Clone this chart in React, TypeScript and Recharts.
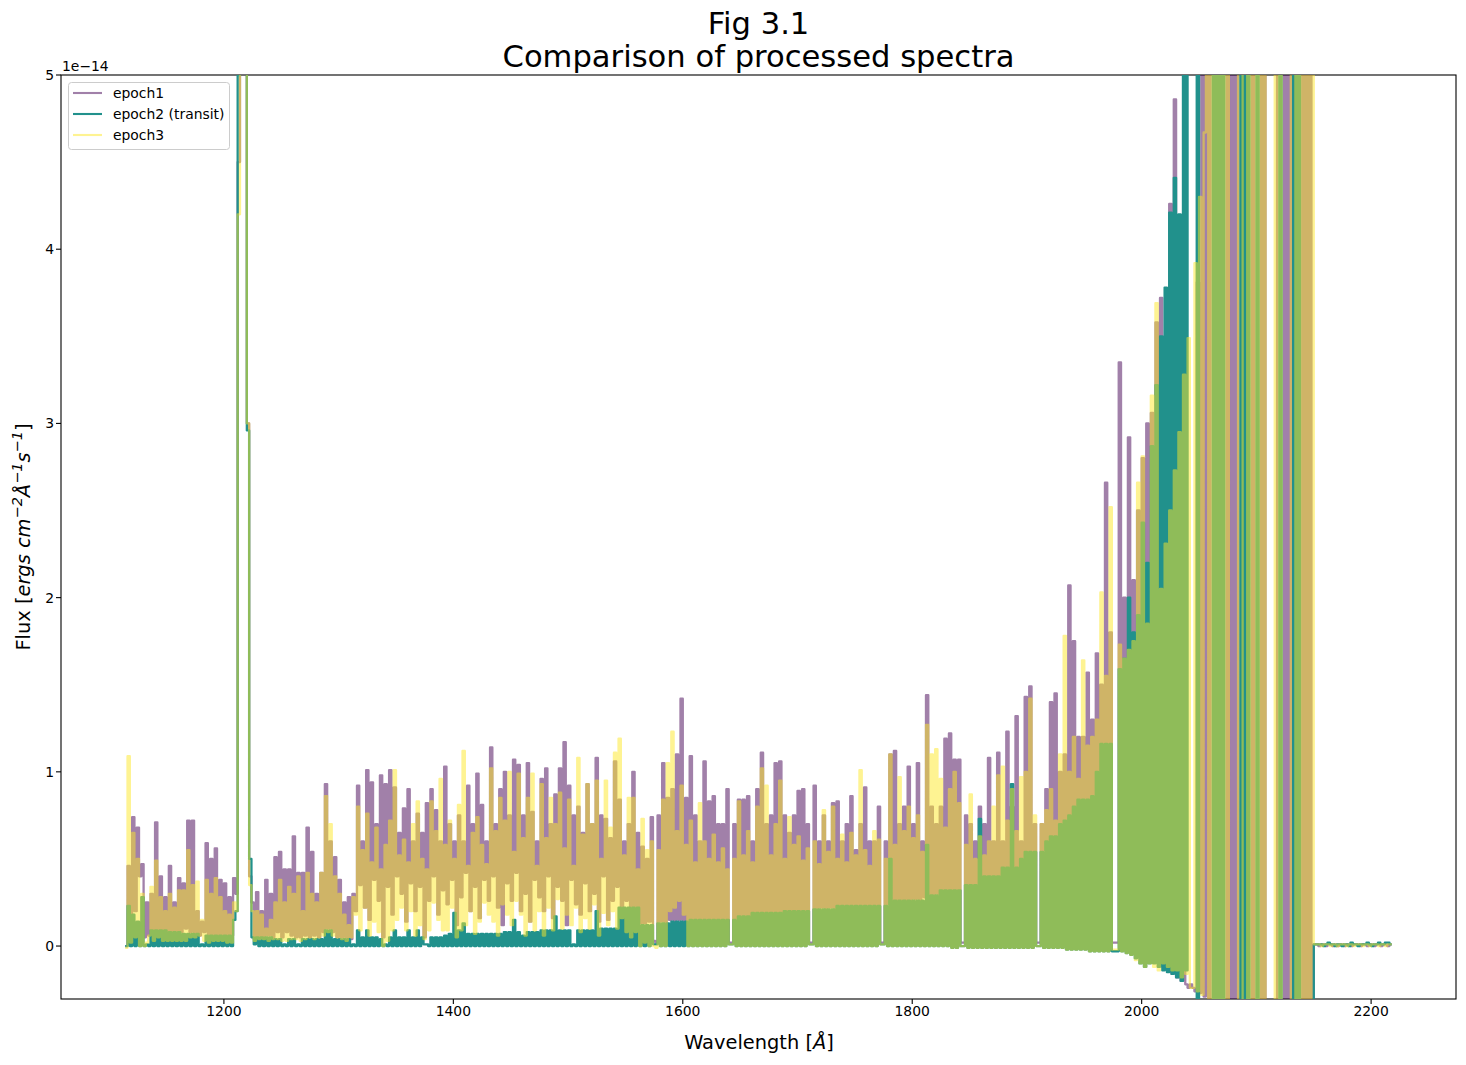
import { LineChart, Line, XAxis, YAxis } from "recharts";

// flux in units of 1e-16, one value every 2 A starting at 1114 A
const fluxEpoch1 = [
  0,46,5,74,20,68,40,47,5,25,6,30,8,71,5,40,5,28,6,46,
  5,25,5,39,8,36,10,72,8,72,5,20,6,14,8,59,5,50,6,56,
  5,38,6,36,5,28,6,39,30,450,1200,2400,2400,300,40,25,4,31,5,20,
  5,38,6,30,5,51,8,54,5,44,8,44,6,63,5,42,5,42,6,68,
  5,54,6,30,5,42,8,93,10,60,8,51,5,38,5,25,4,28,4,30,
  20,92,35,60,22,101,15,94,38,70,26,98,5,93,34,101,18,91,40,65,
  30,79,14,90,36,60,20,76,34,65,5,82,26,90,40,78,18,60,32,103,
  24,70,38,60,12,75,28,60,42,92,20,70,34,99,16,81,38,60,26,114,
  40,70,22,90,12,100,36,75,26,107,42,104,20,75,30,105,14,77,38,60,
  28,96,20,102,40,70,16,87,34,102,26,117,12,92,38,75,24,80,18,65,
  36,93,20,70,30,108,14,75,40,73,15,62,26,106,34,84,13,60,26,70,
  13,100,15,65,13,57,13,50,14,74,3,2,75,14,105,13,85,15,90,14,
  110,15,142,13,85,14,109,15,75,13,60,15,106,14,83,15,86,14,70,15,
  70,14,90,2,2,70,15,84,15,84,16,86,15,60,16,90,17,111,18,70,
  18,75,19,105,18,106,19,75,20,65,19,75,20,89,19,90,20,70,2,2,
  92,21,60,22,75,21,60,22,82,21,83,22,60,21,70,22,86,21,55,23,
  70,23,91,22,60,23,60,22,80,2,2,60,24,110,24,112,25,70,26,80,
  26,103,26,70,27,105,26,60,28,144,28,80,29,70,30,80,30,119,31,122,
  31,107,32,107,2,2,75,33,70,34,60,34,80,35,70,36,108,36,60,38,
  111,39,60,40,123,42,80,44,132,45,60,48,143,48,149,50,70,2,2,70,
  55,90,55,140,56,145,58,100,60,110,60,207,64,175,66,120,70,120,76,157,
  78,130,80,168,82,150,85,266,88,180,2,2,2,335,110,200,115,292,120,210,
  -3,250,-5,280,-5,300,-6,306,-8,358,-10,372,-12,350,-14,426,-16,486,-18,350,
  -20,420,-22,-24,-22,-24,-26,381,-27,1000,-29,3000,-3000,3000,3000,3000,3000,3000,3000,3000,
  -3000,3000,-3000,3000,-3000,3000,3000,3000,3000,3000,3000,-3000,3000,3000,3000,-3000,3000,-3000,-3000,-3000,
  -3000,-3000,3000,3000,3000,-3000,3000,-3000,3000,3000,3000,3000,3000,-3000,3000,-3000,3000,-3000,1,1,
  0,1,1,0,1,1,0,1,0,1,1,0,1,1,0,1,1,1,0,1,
  1,0,1,1,0,1,1,0,1,1,0,1,1,
];

const fluxEpoch2 = [
  0,23,0,18,0,14,0,28,0,1,0,9,0,9,0,9,0,9,0,8,
  0,8,0,8,0,7,0,7,0,7,0,7,0,1,0,6,0,6,0,6,
  0,6,0,6,0,6,0,15,20,500,1300,2400,2400,296,50,5,1,5,0,5,
  0,5,0,5,0,4,0,4,0,1,0,4,0,4,0,1,0,4,0,4,
  0,4,0,4,0,4,0,9,0,9,0,4,0,4,0,4,0,4,0,1,
  0,9,0,5,0,9,0,5,0,5,0,4,0,1,0,5,0,9,0,5,
  0,5,0,9,0,5,0,9,0,5,1,1,0,5,0,5,0,5,0,6,
  0,7,0,19,0,9,0,13,0,7,0,7,0,7,0,7,0,7,0,7,
  0,7,0,7,0,8,0,8,0,15,0,8,0,6,0,8,0,8,0,8,
  0,9,0,9,0,9,0,17,0,9,0,9,0,9,0,1,0,9,0,9,
  0,9,0,9,0,20,0,10,0,10,0,10,0,10,0,22,0,22,0,22,
  0,22,0,22,0,12,0,12,0,12,1,1,13,0,13,0,13,0,14,0,
  14,0,14,0,14,0,15,0,15,0,15,0,15,0,15,0,15,0,15,0,
  15,0,15,1,1,15,0,17,0,17,0,17,0,19,0,19,0,19,0,19,
  0,19,0,19,0,19,0,20,0,20,0,20,0,20,0,20,0,20,1,1,
  21,0,21,0,21,0,21,0,21,0,23,0,23,0,23,0,23,0,23,0,
  23,0,23,0,23,0,23,0,23,1,1,23,0,50,0,26,0,26,0,26,
  0,26,0,26,0,26,0,26,0,58,0,29,0,29,0,32,0,32,0,32,
  -1,32,-1,32,0,0,35,-1,35,-1,35,-1,73,-1,40,-1,40,-1,40,-1,
  40,-1,45,-1,45,-1,93,-1,45,-1,50,-1,54,-1,54,-1,54,0,0,54,
  -1,60,-1,63,-1,63,-1,70,-1,72,-2,75,-2,80,-2,84,-2,84,-2,84,
  -3,86,-3,100,-3,116,-3,116,-3,116,-3,-3,-3,159,-3,165,-4,200,-5,180,
  -7,190,-10,243,-12,220,-10,287,-10,322,-12,350,-14,378,-15,421,-16,441,-18,420,
  -20,1000,-14,3000,3000,3000,3000,-3000,3000,3000,3000,3000,3000,3000,-3000,3000,-3000,3000,-3000,3000,
  3000,3000,3000,3000,3000,3000,-3000,3000,-3000,3000,-3000,-3000,-3000,3000,-3000,-3000,-3000,-3000,-3000,-3000,
  -3000,-3000,-3000,3000,-3000,-3000,-3000,-3000,-3000,3000,-3000,3000,-3000,-3000,-3000,-3000,-3000,-3000,1,1,
  1,1,0,1,2,1,1,0,1,1,0,1,1,0,2,1,1,0,1,1,
  1,2,1,0,1,1,2,1,1,2,2,1,1,
];

const fluxEpoch3 = [
  -1,109,2,65,5,50,0,30,0,2,6,34,3,49,5,28,3,20,3,30,
  3,22,3,32,3,32,3,55,5,35,5,37,6,15,3,38,2,30,3,39,
  3,28,3,20,2,18,2,25,20,420,1300,2400,2400,300,35,20,3,20,4,18,
  4,10,3,15,4,25,4,38,3,25,3,34,4,30,4,40,3,20,4,42,
  5,30,4,25,5,42,6,86,8,70,6,40,5,30,4,18,3,12,5,28,
  18,80,9,55,22,76,6,48,14,68,8,44,0,58,3,72,9,101,15,52,
  22,61,9,48,20,70,6,83,12,50,4,44,9,83,25,66,15,96,9,58,
  9,72,22,50,5,81,9,112,12,46,20,65,7,74,14,58,25,47,18,102,
  14,66,6,85,24,72,18,100,12,54,26,99,18,62,6,85,14,99,9,46,
  20,93,6,62,22,85,9,70,27,88,10,56,18,84,12,46,22,108,8,64,
  16,93,10,70,24,95,6,50,19,95,12,68,20,111,10,119,16,52,8,85,
  5,85,8,44,0,73,2,55,0,60,0,-1,55,0,84,0,105,20,123,22,
  66,26,92,18,58,0,72,0,48,0,82,0,60,0,50,0,64,0,48,0,
  56,0,44,1,1,50,0,83,0,52,0,66,0,48,0,80,0,102,0,92,
  0,52,0,70,0,95,0,50,0,74,0,58,0,63,0,49,0,56,1,1,
  60,0,47,0,78,0,54,0,80,0,50,0,64,0,48,0,65,0,52,0,
  101,0,55,0,46,0,66,0,61,1,1,50,0,110,0,58,0,97,0,66,
  0,80,0,62,0,75,0,54,0,127,0,110,0,113,0,96,0,68,0,90,
  -1,100,-1,82,0,0,58,-1,87,-1,50,-1,63,-1,52,-1,60,-1,80,-1,
  98,-1,103,-1,72,-1,90,-1,66,-1,97,-1,100,-1,142,-1,75,0,0,70,
  -1,78,-1,90,-1,72,-1,110,-1,178,-2,100,-2,120,-2,96,-2,164,-2,115,
  -3,120,-3,130,-3,203,-3,155,-3,252,-2,-2,-2,173,-3,165,-4,170,-5,175,
  -8,266,-10,281,-12,185,-10,316,-12,369,-14,205,-10,231,-12,250,-14,273,-14,295,
  -18,328,-16,349,-24,-24,392,-26,430,-28,467,3000,-3000,3000,-3000,3000,-3000,3000,-3000,3000,
  -3000,3000,3000,3000,3000,-3000,-3000,3000,3000,-3000,3000,-3000,3000,-3000,3000,-3000,3000,-3000,-3000,-3000,
  -3000,3000,-3000,3000,-3000,-3000,-3000,-3000,3000,3000,-3000,3000,-3000,3000,-3000,3000,-3000,3000,1,1,
  1,0,1,1,1,0,1,1,0,1,1,1,0,1,1,0,1,1,1,0,
  1,1,0,1,1,1,0,1,1,0,1,1,1,
];

const wavelengths = fluxEpoch1.map((_, i) => 1114 + i * 2);
const xTicks = [1200, 1400, 1600, 1800, 2000, 2200];
const yTicks = [0, 100, 200, 300, 400, 500];

const series = [
  { key: "epoch1", name: "epoch1", color: "#440154", opacity: 0.5 },
  { key: "epoch2", name: "epoch2 (transit)", color: "#21918c", opacity: 1 },
  { key: "epoch3", name: "epoch3", color: "#fde725", opacity: 0.5 },
];

const table = wavelengths.map((wavelength, i) => ({
  wavelength,
  epoch1: fluxEpoch1[i],
  epoch2: fluxEpoch2[i],
  epoch3: fluxEpoch3[i],
}));

const font = "'DejaVu Sans', sans-serif";

const ChartLegend = () => (
  <g fontFamily={font} fontSize={13.9}>
    <rect x={68.5} y={82.5} width={161} height={67} rx={3} fill="#fff" fillOpacity={0.8} stroke="#ccc" />
    {series.map((s, i) => (
      <g key={s.key}>
        <line x1={73} x2={102} y1={93 + i * 21} y2={93 + i * 21} stroke={s.color} strokeOpacity={s.opacity} strokeWidth={2.1} />
        <text x={113} y={98 + i * 21} fill="#000">{s.name}</text>
      </g>
    ))}
  </g>
);

export default function App() {
  return (
    <div style={{ position: "absolute", left: 0, top: 0, width: 1466, height: 1065, background: "#fff" }}>
      <LineChart
        width={1466}
        height={1065}
        data={table}
        margin={{ top: 75, right: 10, bottom: 0, left: 0 }}
      >
        <XAxis
          dataKey="wavelength"
          type="number"
          domain={[1058, 2274]}
          ticks={xTicks}
          allowDataOverflow
          height={66}
          axisLine={false}
          tickSize={5}
          tick={{ fill: "#000", fontSize: 13.9, fontFamily: font }}
          tickLine={{ stroke: "#000", strokeWidth: 1.1 }}
        />
        <YAxis
          type="number"
          domain={[-30.4, 500]}
          ticks={yTicks}
          allowDataOverflow
          width={61}
          axisLine={false}
          tickSize={5}
          tickFormatter={(v: number) => String(v / 100)}
          tick={{ fill: "#000", fontSize: 13.9, fontFamily: font }}
          tickLine={{ stroke: "#000", strokeWidth: 1.1 }}
        />
        {series.map((s) => (
          <Line
            key={s.key}
            dataKey={s.key}
            name={s.name}
            type="stepAfter"
            stroke={s.color}
            strokeOpacity={s.opacity}
            strokeWidth={2.3}
            strokeLinejoin="round"
            dot={false}
            isAnimationActive={false}
          />
        ))}
        <rect x={61} y={75} width={1395} height={924} fill="none" stroke="#000" strokeWidth={1.1} />
        <ChartLegend />
        <text x={62} y={71} fontFamily={font} fontSize={13.9} fill="#000">1e−14</text>
        <text x={758.5} y={34} textAnchor="middle" fontFamily={font} fontSize={30.6} fill="#000">Fig 3.1</text>
        <text x={758.5} y={67} textAnchor="middle" fontFamily={font} fontSize={30.6} fill="#000">Comparison of processed spectra</text>
        <text x={759} y={1049} textAnchor="middle" fontFamily={font} fontSize={19.4} fill="#000">
          Wavelength [<tspan fontStyle="italic">Å</tspan>]
        </text>
        <text transform="translate(30,537) rotate(-90)" textAnchor="middle" fontFamily={font} fontSize={19.4} fill="#000">
          Flux [<tspan fontStyle="italic">ergs cm</tspan>
          <tspan fontStyle="italic" fontSize={14.5} dy={-8}>−2</tspan>
          <tspan fontStyle="italic" dy={8}>Å</tspan>
          <tspan fontStyle="italic" fontSize={14.5} dy={-8}>−1</tspan>
          <tspan fontStyle="italic" dy={8}>s</tspan>
          <tspan fontStyle="italic" fontSize={14.5} dy={-8}>−1</tspan>
          <tspan dy={8}>]</tspan>
        </text>
      </LineChart>
    </div>
  );
}
